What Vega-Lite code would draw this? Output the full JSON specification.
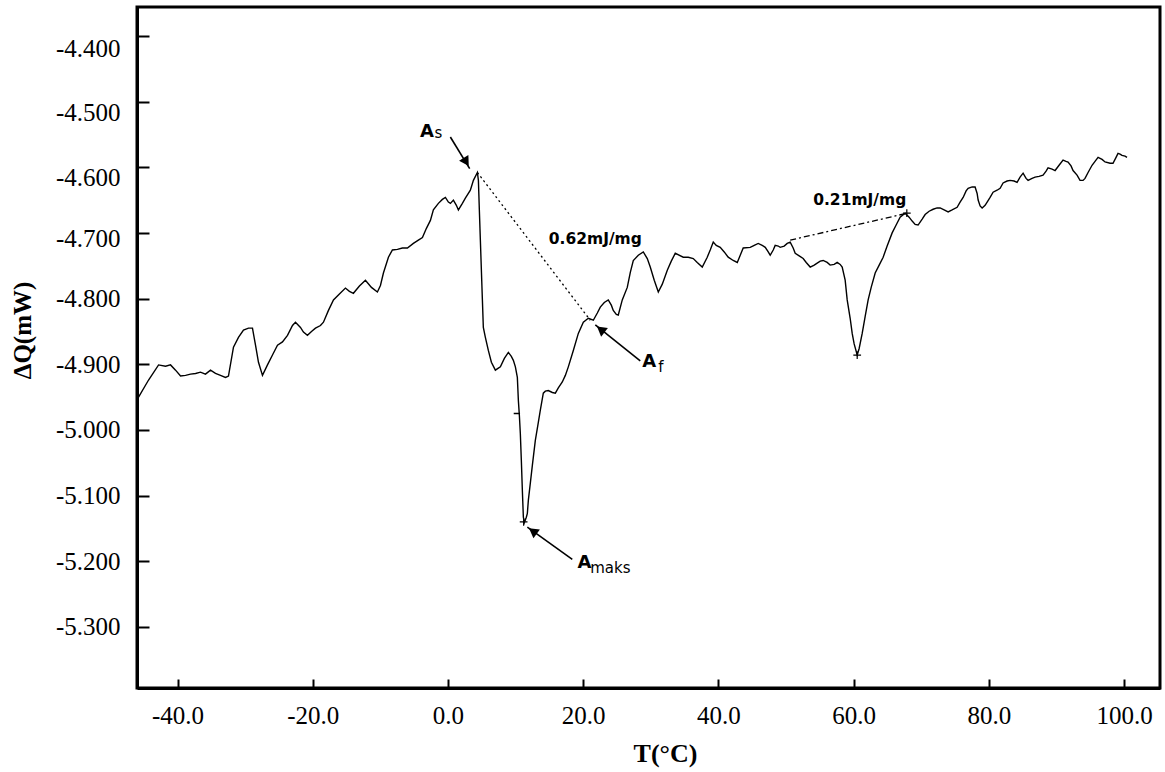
{
  "$schema": "https://vega.github.io/schema/vega-lite/v6.json",
  "width": 1023,
  "height": 681,
  "autosize": {"type": "none"},
  "padding": {"left": 137, "top": 7, "right": 5, "bottom": 84},
  "background": "white",
  "config": {
    "view": {"stroke": "black", "strokeWidth": 3},
    "axis": {"grid": false, "domainColor": "black", "domainWidth": 3, "tickColor": "black", "tickWidth": 2, "labelColor": "black", "titleColor": "black", "labelFont": "Liberation Serif", "titleFont": "Liberation Serif", "labelFontSize": 25, "titleFontWeight": "bold", "labelOverlap": false, "labelFlush": false}
  },
  "datasets": {
    "dsc": [
      {"T": -45.77, "Q": -4.950}, {"T": -44.29, "Q": -4.924}, {"T": -42.81, "Q": -4.901}, {"T": -41.78, "Q": -4.903},
      {"T": -41.04, "Q": -4.901}, {"T": -40.30, "Q": -4.909}, {"T": -39.56, "Q": -4.918}, {"T": -38.82, "Q": -4.917},
      {"T": -38.08, "Q": -4.915}, {"T": -37.34, "Q": -4.914}, {"T": -36.61, "Q": -4.912}, {"T": -35.87, "Q": -4.915},
      {"T": -35.13, "Q": -4.909}, {"T": -34.39, "Q": -4.914}, {"T": -33.65, "Q": -4.917}, {"T": -32.91, "Q": -4.920},
      {"T": -32.47, "Q": -4.918}, {"T": -31.73, "Q": -4.874}, {"T": -30.99, "Q": -4.859}, {"T": -30.25, "Q": -4.848},
      {"T": -29.51, "Q": -4.845}, {"T": -28.92, "Q": -4.845}, {"T": -28.47, "Q": -4.871}, {"T": -28.03, "Q": -4.897},
      {"T": -27.44, "Q": -4.917}, {"T": -26.70, "Q": -4.901}, {"T": -25.96, "Q": -4.886}, {"T": -25.22, "Q": -4.871},
      {"T": -24.48, "Q": -4.866}, {"T": -23.74, "Q": -4.856}, {"T": -23.00, "Q": -4.841}, {"T": -22.56, "Q": -4.836},
      {"T": -21.82, "Q": -4.844}, {"T": -21.38, "Q": -4.851}, {"T": -20.79, "Q": -4.856}, {"T": -20.19, "Q": -4.850},
      {"T": -19.60, "Q": -4.845}, {"T": -18.86, "Q": -4.841}, {"T": -18.42, "Q": -4.836}, {"T": -17.68, "Q": -4.818},
      {"T": -16.94, "Q": -4.802}, {"T": -16.06, "Q": -4.793}, {"T": -15.17, "Q": -4.784}, {"T": -14.58, "Q": -4.789},
      {"T": -13.99, "Q": -4.792}, {"T": -13.10, "Q": -4.781}, {"T": -12.21, "Q": -4.772}, {"T": -11.32, "Q": -4.783},
      {"T": -10.44, "Q": -4.790}, {"T": -9.99, "Q": -4.780}, {"T": -9.55, "Q": -4.761}, {"T": -8.81, "Q": -4.737},
      {"T": -8.22, "Q": -4.726}, {"T": -7.48, "Q": -4.725}, {"T": -6.74, "Q": -4.723}, {"T": -6.00, "Q": -4.723},
      {"T": -5.12, "Q": -4.716}, {"T": -4.38, "Q": -4.711}, {"T": -3.78, "Q": -4.707}, {"T": -3.19, "Q": -4.693},
      {"T": -2.60, "Q": -4.681}, {"T": -2.16, "Q": -4.665}, {"T": -1.42, "Q": -4.655}, {"T": -0.83, "Q": -4.649},
      {"T": -0.38, "Q": -4.646}, {"T": 0.06, "Q": -4.653}, {"T": 0.36, "Q": -4.655}, {"T": 0.80, "Q": -4.650},
      {"T": 1.24, "Q": -4.658}, {"T": 1.54, "Q": -4.665}, {"T": 2.13, "Q": -4.655}, {"T": 2.57, "Q": -4.647},
      {"T": 3.31, "Q": -4.635}, {"T": 3.76, "Q": -4.620}, {"T": 4.35, "Q": -4.608}, {"T": 4.50, "Q": -4.620},
      {"T": 4.64, "Q": -4.665}, {"T": 4.79, "Q": -4.711}, {"T": 4.94, "Q": -4.757}, {"T": 5.09, "Q": -4.802},
      {"T": 5.23, "Q": -4.844}, {"T": 5.53, "Q": -4.859}, {"T": 5.97, "Q": -4.879}, {"T": 6.42, "Q": -4.897},
      {"T": 7.01, "Q": -4.909}, {"T": 7.45, "Q": -4.906}, {"T": 7.75, "Q": -4.904}, {"T": 8.34, "Q": -4.891},
      {"T": 8.93, "Q": -4.882}, {"T": 9.37, "Q": -4.888}, {"T": 9.67, "Q": -4.894}, {"T": 9.97, "Q": -4.904},
      {"T": 10.26, "Q": -4.920}, {"T": 10.41, "Q": -4.955}, {"T": 10.56, "Q": -4.978}, {"T": 10.70, "Q": -5.005},
      {"T": 10.85, "Q": -5.046}, {"T": 11.00, "Q": -5.092}, {"T": 11.15, "Q": -5.133}, {"T": 11.30, "Q": -5.141},
      {"T": 11.59, "Q": -5.133}, {"T": 11.74, "Q": -5.127}, {"T": 11.89, "Q": -5.107}, {"T": 12.18, "Q": -5.081},
      {"T": 12.48, "Q": -5.054}, {"T": 12.92, "Q": -5.016}, {"T": 13.37, "Q": -4.988}, {"T": 13.66, "Q": -4.970},
      {"T": 14.10, "Q": -4.944}, {"T": 14.40, "Q": -4.941}, {"T": 14.84, "Q": -4.940}, {"T": 15.44, "Q": -4.943},
      {"T": 15.88, "Q": -4.944}, {"T": 16.32, "Q": -4.936}, {"T": 16.91, "Q": -4.927}, {"T": 17.36, "Q": -4.917},
      {"T": 17.80, "Q": -4.904}, {"T": 18.54, "Q": -4.879}, {"T": 19.28, "Q": -4.853}, {"T": 20.02, "Q": -4.836},
      {"T": 20.76, "Q": -4.830}, {"T": 21.50, "Q": -4.833}, {"T": 22.09, "Q": -4.822}, {"T": 22.53, "Q": -4.813},
      {"T": 23.12, "Q": -4.806}, {"T": 23.71, "Q": -4.802}, {"T": 24.16, "Q": -4.810}, {"T": 24.45, "Q": -4.818},
      {"T": 24.90, "Q": -4.824}, {"T": 25.19, "Q": -4.825}, {"T": 25.78, "Q": -4.802}, {"T": 26.52, "Q": -4.783},
      {"T": 26.97, "Q": -4.760}, {"T": 27.41, "Q": -4.742}, {"T": 28.15, "Q": -4.734}, {"T": 28.89, "Q": -4.729},
      {"T": 29.48, "Q": -4.739}, {"T": 29.92, "Q": -4.752}, {"T": 30.51, "Q": -4.772}, {"T": 31.11, "Q": -4.790},
      {"T": 31.70, "Q": -4.778}, {"T": 32.44, "Q": -4.757}, {"T": 33.03, "Q": -4.743}, {"T": 33.62, "Q": -4.731},
      {"T": 34.80, "Q": -4.737}, {"T": 35.54, "Q": -4.737}, {"T": 36.28, "Q": -4.739}, {"T": 36.87, "Q": -4.745},
      {"T": 37.61, "Q": -4.752}, {"T": 38.35, "Q": -4.737}, {"T": 38.79, "Q": -4.726}, {"T": 39.24, "Q": -4.714},
      {"T": 39.68, "Q": -4.719}, {"T": 40.27, "Q": -4.722}, {"T": 40.86, "Q": -4.729}, {"T": 41.45, "Q": -4.737},
      {"T": 42.19, "Q": -4.742}, {"T": 42.79, "Q": -4.745}, {"T": 43.23, "Q": -4.734}, {"T": 43.67, "Q": -4.723},
      {"T": 44.71, "Q": -4.722}, {"T": 45.30, "Q": -4.719}, {"T": 45.89, "Q": -4.716}, {"T": 46.48, "Q": -4.719},
      {"T": 46.93, "Q": -4.722}, {"T": 47.37, "Q": -4.729}, {"T": 47.66, "Q": -4.734}, {"T": 48.11, "Q": -4.726},
      {"T": 48.40, "Q": -4.719}, {"T": 48.85, "Q": -4.720}, {"T": 49.14, "Q": -4.722}, {"T": 49.73, "Q": -4.720},
      {"T": 50.18, "Q": -4.716}, {"T": 50.62, "Q": -4.714}, {"T": 51.06, "Q": -4.723}, {"T": 51.36, "Q": -4.731},
      {"T": 51.95, "Q": -4.735}, {"T": 52.54, "Q": -4.739}, {"T": 52.99, "Q": -4.745}, {"T": 53.58, "Q": -4.752},
      {"T": 54.17, "Q": -4.749}, {"T": 54.61, "Q": -4.746}, {"T": 55.06, "Q": -4.743}, {"T": 55.50, "Q": -4.742},
      {"T": 56.09, "Q": -4.745}, {"T": 56.53, "Q": -4.749}, {"T": 57.13, "Q": -4.748}, {"T": 57.57, "Q": -4.745},
      {"T": 58.01, "Q": -4.748}, {"T": 58.31, "Q": -4.752}, {"T": 58.75, "Q": -4.772}, {"T": 59.05, "Q": -4.802},
      {"T": 59.49, "Q": -4.830}, {"T": 59.79, "Q": -4.853}, {"T": 60.08, "Q": -4.869}, {"T": 60.53, "Q": -4.886},
      {"T": 60.82, "Q": -4.876}, {"T": 61.27, "Q": -4.853}, {"T": 61.71, "Q": -4.827}, {"T": 62.15, "Q": -4.802},
      {"T": 62.60, "Q": -4.783}, {"T": 63.19, "Q": -4.761}, {"T": 63.78, "Q": -4.749}, {"T": 64.37, "Q": -4.737},
      {"T": 64.96, "Q": -4.720}, {"T": 65.70, "Q": -4.700}, {"T": 66.29, "Q": -4.688}, {"T": 66.88, "Q": -4.676},
      {"T": 67.62, "Q": -4.670}, {"T": 68.21, "Q": -4.676}, {"T": 68.66, "Q": -4.682}, {"T": 69.10, "Q": -4.687},
      {"T": 69.54, "Q": -4.688}, {"T": 70.14, "Q": -4.679}, {"T": 70.58, "Q": -4.672}, {"T": 71.17, "Q": -4.667},
      {"T": 71.76, "Q": -4.664}, {"T": 72.35, "Q": -4.662}, {"T": 72.80, "Q": -4.662}, {"T": 73.39, "Q": -4.665},
      {"T": 73.98, "Q": -4.668}, {"T": 74.57, "Q": -4.665}, {"T": 75.31, "Q": -4.661}, {"T": 75.75, "Q": -4.653},
      {"T": 76.20, "Q": -4.646}, {"T": 76.64, "Q": -4.636}, {"T": 76.94, "Q": -4.632}, {"T": 77.53, "Q": -4.630},
      {"T": 77.97, "Q": -4.630}, {"T": 78.27, "Q": -4.640}, {"T": 78.42, "Q": -4.650}, {"T": 78.71, "Q": -4.659},
      {"T": 79.01, "Q": -4.662}, {"T": 79.45, "Q": -4.658}, {"T": 79.75, "Q": -4.653}, {"T": 80.19, "Q": -4.646},
      {"T": 80.63, "Q": -4.638}, {"T": 81.22, "Q": -4.635}, {"T": 81.67, "Q": -4.632}, {"T": 82.11, "Q": -4.624},
      {"T": 82.70, "Q": -4.621}, {"T": 83.15, "Q": -4.620}, {"T": 83.74, "Q": -4.621}, {"T": 84.18, "Q": -4.623},
      {"T": 84.62, "Q": -4.615}, {"T": 85.07, "Q": -4.609}, {"T": 85.51, "Q": -4.617}, {"T": 85.81, "Q": -4.620},
      {"T": 86.40, "Q": -4.617}, {"T": 86.84, "Q": -4.615}, {"T": 87.43, "Q": -4.614}, {"T": 88.02, "Q": -4.612},
      {"T": 88.47, "Q": -4.606}, {"T": 88.76, "Q": -4.601}, {"T": 89.36, "Q": -4.603}, {"T": 89.80, "Q": -4.605},
      {"T": 90.39, "Q": -4.597}, {"T": 90.98, "Q": -4.589}, {"T": 91.42, "Q": -4.591}, {"T": 91.72, "Q": -4.592},
      {"T": 92.16, "Q": -4.598}, {"T": 92.46, "Q": -4.605}, {"T": 93.05, "Q": -4.612}, {"T": 93.49, "Q": -4.620},
      {"T": 93.94, "Q": -4.620}, {"T": 94.23, "Q": -4.617}, {"T": 94.68, "Q": -4.608}, {"T": 95.27, "Q": -4.597},
      {"T": 95.71, "Q": -4.591}, {"T": 96.16, "Q": -4.585}, {"T": 96.75, "Q": -4.588}, {"T": 97.19, "Q": -4.592},
      {"T": 97.93, "Q": -4.594}, {"T": 98.37, "Q": -4.594}, {"T": 98.82, "Q": -4.585}, {"T": 99.11, "Q": -4.579},
      {"T": 99.41, "Q": -4.580}, {"T": 99.70, "Q": -4.582}, {"T": 100.15, "Q": -4.583}, {"T": 100.44, "Q": -4.585}
    ],
    "baseline1": [{"T": 4.35, "Q": -4.608, "T2": 21.05, "Q2": -4.833}],
    "baseline2": [{"T": 50.62, "Q": -4.711, "T2": 67.92, "Q2": -4.670}],
    "arrows": [
      {"T": 0.35, "Q": -4.554, "T2": 3.21, "Q2": -4.602},
      {"T": 28.44, "Q": -4.895, "T2": 21.79, "Q2": -4.840},
      {"T": 18.39, "Q": -5.197, "T2": 11.74, "Q2": -5.148}
    ],
    "headAs": [{"T": 2.70, "Q": -4.592}],
    "headAf": [{"T": 22.60, "Q": -4.847}],
    "headAmaks": [{"T": 12.55, "Q": -5.154}],
    "crosses": [{"T": 11.19, "Q": -5.140}, {"T": 60.53, "Q": -4.886}, {"T": 67.87, "Q": -4.670}],
    "dash": [{"T": 10.19, "Q": -4.975}],
    "energies": [{"label": "0.62mJ/mg", "T": 21.79, "Q": -4.717}, {"label": "0.21mJ/mg", "T": 60.9, "Q": -4.658}],
    "letters": [{"label": "A", "T": -3.12, "Q": -4.554}, {"label": "A", "T": 29.78, "Q": -4.904}, {"label": "A", "T": 20.20, "Q": -5.210}],
    "subs": [{"label": "s", "T": -2.01, "Q": -4.556}, {"label": "f", "T": 31.11, "Q": -4.912}, {"label": "maks", "T": 21.04, "Q": -5.218}]
  },
  "encoding": {
    "x": {
      "field": "T", "type": "quantitative",
      "scale": {"domain": [-46.0, 105.32], "nice": false, "zero": false},
      "axis": {
        "values": [-40, -20, 0, 20, 40, 60, 80, 100],
        "format": ".1f",
        "labelExpr": "replace(datum.label, '\u2212', '-')",
        "tickSize": -9,
        "labelPadding": 24,
        "title": "T(°C)",
        "titleFontSize": 26,
        "titleX": 528,
        "titleY": 65,
        "titleAlign": "center",
        "titleBaseline": "middle"
      }
    },
    "y": {
      "field": "Q", "type": "quantitative",
      "scale": {"domain": [-5.393, -4.356], "nice": false, "zero": false},
      "axis": {
        "values": [-5.3, -5.2, -5.1, -5.0, -4.9, -4.8, -4.7, -4.6, -4.5, -4.4],
        "format": ".3f",
        "labelExpr": "replace(datum.label, '\u2212', '-')",
        "tickSize": -12,
        "labelPadding": 29,
        "labelBaseline": "middle",
        "labelOffset": {"condition": [
          {"test": "datum.value > -4.45", "value": 13},
          {"test": "datum.value > -4.55", "value": 11},
          {"test": "datum.value > -4.65", "value": 10},
          {"test": "datum.value > -4.75", "value": 6}
        ], "value": 0},
        "title": "ΔQ(mW)",
        "titleFontSize": 25,
        "titleAngle": -90,
        "titleX": -115,
        "titleY": 323,
        "titleAlign": "center",
        "titleBaseline": "middle"
      }
    }
  },
  "layer": [
    {"data": {"name": "dsc"}, "mark": {"type": "line", "color": "black", "strokeWidth": 1.4}},
    {"data": {"name": "baseline1"}, "mark": {"type": "rule", "color": "black", "strokeWidth": 1.3, "strokeDash": [2, 3]},
     "encoding": {"x2": {"field": "T2"}, "y2": {"field": "Q2"}}},
    {"data": {"name": "baseline2"}, "mark": {"type": "rule", "color": "black", "strokeWidth": 1.3, "strokeDash": [6, 3, 2, 3]},
     "encoding": {"x2": {"field": "T2"}, "y2": {"field": "Q2"}}},
    {"data": {"name": "arrows"}, "mark": {"type": "rule", "color": "black", "strokeWidth": 1.6},
     "encoding": {"x2": {"field": "T2"}, "y2": {"field": "Q2"}}},
    {"data": {"name": "headAs"}, "mark": {"type": "point", "shape": "triangle-up", "filled": true, "color": "black", "size": 120, "angle": 148, "opacity": 1}},
    {"data": {"name": "headAf"}, "mark": {"type": "point", "shape": "triangle-up", "filled": true, "color": "black", "size": 120, "angle": 308, "opacity": 1}},
    {"data": {"name": "headAmaks"}, "mark": {"type": "point", "shape": "triangle-up", "filled": true, "color": "black", "size": 120, "angle": 306, "opacity": 1}},
    {"data": {"name": "crosses"}, "mark": {"type": "point", "shape": "M-1,0H1M0,-1V1", "filled": false, "color": "black", "strokeWidth": 1.2, "size": 60, "opacity": 1}},
    {"data": {"name": "dash"}, "mark": {"type": "point", "shape": "stroke", "filled": false, "color": "black", "strokeWidth": 1.5, "size": 40, "opacity": 1}},
    {"data": {"name": "energies"}, "mark": {"type": "text", "font": "DejaVu Sans", "fontWeight": "bold", "fontSize": 15.5, "align": "center", "baseline": "alphabetic", "color": "black"},
     "encoding": {"text": {"field": "label"}}},
    {"data": {"name": "letters"}, "mark": {"type": "text", "font": "DejaVu Sans", "fontWeight": "bold", "fontSize": 18, "align": "center", "baseline": "alphabetic", "color": "black"},
     "encoding": {"text": {"field": "label"}}},
    {"data": {"name": "subs"}, "mark": {"type": "text", "font": "DejaVu Sans", "fontSize": 15, "align": "left", "baseline": "alphabetic", "color": "black"},
     "encoding": {"text": {"field": "label"}}}
  ]
}
